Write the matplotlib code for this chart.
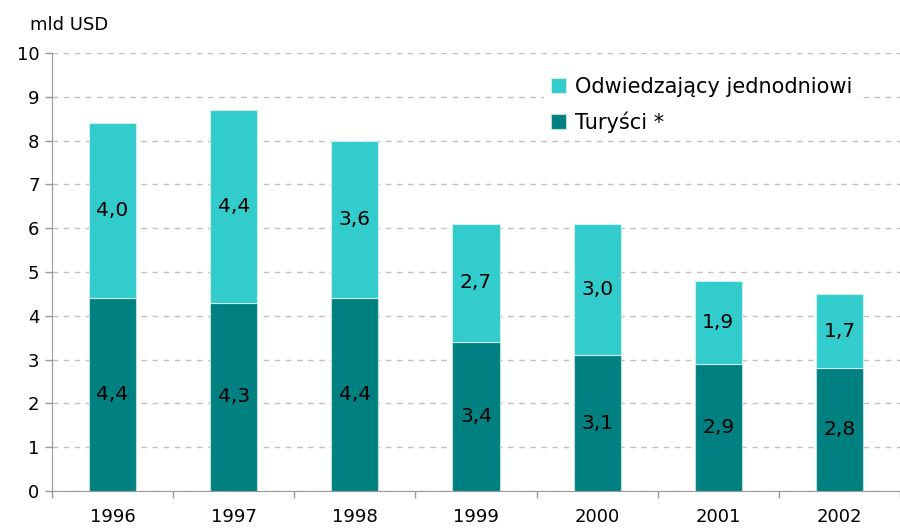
import matplotlib.pyplot as plt
import numpy as np

years = ['1996', '1997', '1998', '1999', '2000', '2001', '2002']
turysci = [4.4, 4.3, 4.4, 3.4, 3.1, 2.9, 2.8]
odwiedzajacy = [4.0, 4.4, 3.6, 2.7, 3.0, 1.9, 1.7]

plt.rcParams['font.family'] = ['DejaVu Sans']

dark = '#008080'
light = '#33cccc'
fs = 13

fig = plt.figure(figsize=(9, 5.29), dpi=100)
ax = fig.add_axes([52 / 900, 38 / 529, 848 / 900, 438 / 529])

x = np.arange(len(years))
w = 0.39
ax.bar(x, turysci, w, color=dark, edgecolor='#b8dede', linewidth=0.8,
       label='Turyści *', zorder=3)
ax.bar(x, odwiedzajacy, w, bottom=turysci, color=light, edgecolor='#c8f0f0',
       linewidth=0.8, label='Odwiedzający jednodniowi', zorder=3)

# value labels in the middle of each segment
for i in range(len(years)):
    ax.text(x[i], turysci[i] / 2, f'{turysci[i]:.1f}'.replace('.', ','),
            ha='center', va='center', fontsize=14.5, color='black', zorder=4)
    ax.text(x[i], turysci[i] + odwiedzajacy[i] / 2,
            f'{odwiedzajacy[i]:.1f}'.replace('.', ','),
            ha='center', va='center', fontsize=14.5, color='black', zorder=4)

ax.set_ylim(0, 10)
ax.set_yticks(range(0, 11))
ax.set_xlim(-0.5, -0.5 + 848 / 122.2)
ax.set_xticks(x)
ax.set_xticklabels(years)
ax.set_xticks(np.arange(-0.5, 7, 1), minor=True)
ax.tick_params(axis='x', which='major', length=0, pad=12, labelsize=fs)
ax.tick_params(axis='x', which='minor', length=5, color='#999999', width=1)
ax.tick_params(axis='y', length=5, color='#999999', width=1, labelsize=fs, pad=4)

ax.yaxis.grid(True, color='#c0c0c0', linestyle=(0, (4, 4)), linewidth=1, zorder=0)
ax.set_axisbelow(True)
for s in ['top', 'right']:
    ax.spines[s].set_visible(False)
ax.spines['left'].set_color('#999999')
ax.spines['bottom'].set_color('#999999')

fig.text(30 / 900, 1 - 25 / 529, 'mld USD', fontsize=fs, va='center', ha='left')

handles, labels = ax.get_legend_handles_labels()
leg = ax.legend(handles[::-1], labels[::-1], loc='upper left',
                bbox_to_anchor=(534 / 900, 1 - 60 / 529),
                bbox_transform=fig.transFigure, fontsize=15, frameon=True,
                facecolor='white', edgecolor='none', framealpha=1,
                fancybox=False, handlelength=0.75, handleheight=0.72,
                handletextpad=0.4, labelspacing=0.7, borderpad=0.3)
leg.set_zorder(5)

fig.savefig('out.png', dpi=100)
